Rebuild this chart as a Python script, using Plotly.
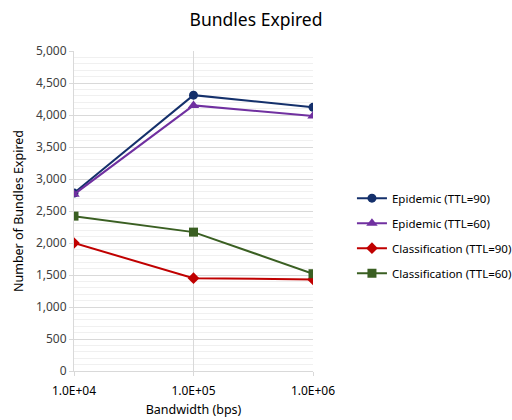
import plotly.graph_objects as go

# Bandwidth values (bps)
bandwidth = [1e4, 1e5, 1e6]
bandwidth_labels = ["1.0E+04", "1.0E+05", "1.0E+06"]

# Bundles expired per protocol
epidemic_90 = [2780, 4310, 4120]
epidemic_60 = [2760, 4150, 3985]
classification_90 = [2000, 1450, 1430]
classification_60 = [2420, 2170, 1520]

series = [
    ("Epidemic (TTL=90)", epidemic_90, "#14306B", "circle", 9),
    ("Epidemic (TTL=60)", epidemic_60, "#7030A0", "triangle-up", 10),
    ("Classification (TTL=90)", classification_90, "#C00000", "diamond", 9),
    ("Classification (TTL=60)", classification_60, "#3A5F22", "square", 9),
]

fig = go.Figure()

for name, values, color, symbol, size in series:
    fig.add_trace(
        go.Scatter(
            x=bandwidth,
            y=values,
            mode="lines+markers",
            name=name,
            legendgroup=name,
            line=dict(color=color, width=2),
            marker=dict(symbol=symbol, size=size, color=color),
        )
    )

fig.update_layout(
    width=512,
    height=420,
    paper_bgcolor="white",
    plot_bgcolor="white",
    font=dict(family="Noto Sans", size=12, color="#404040"),
    title=dict(
        text="Bundles Expired",
        x=0.5,
        xanchor="center",
        y=0.952,
        yanchor="middle",
        font=dict(size=17.5, color="#000000"),
    ),
    margin=dict(l=74, r=199, t=51, b=49, autoexpand=False),
    legend=dict(
        x=1.163,
        y=0.423,
        xanchor="left",
        yanchor="middle",
        font=dict(size=11.5, color="#000000"),
        tracegroupgap=6,
        itemwidth=30,
    ),
    showlegend=True,
)

fig.update_xaxes(
    type="log",
    range=[4, 6],
    tickvals=bandwidth,
    ticktext=bandwidth_labels,
    showgrid=True,
    gridcolor="#D9D9D9",
    showline=True,
    linecolor="#D9D9D9",
    ticks="outside",
    tickcolor="#D9D9D9",
    ticklen=4,
    ticklabelstandoff=5,
    zeroline=False,
    title=dict(text="Bandwidth (bps)", font=dict(size=12.5, color="#000000"), standoff=6),
    tickfont=dict(color="#000000"),
)

fig.update_yaxes(
    range=[0, 5000],
    dtick=500,
    tickformat=",d",
    showgrid=True,
    gridcolor="#D9D9D9",
    minor=dict(dtick=100, showgrid=True, gridcolor="#F0F0F0"),
    showline=True,
    linecolor="#D9D9D9",
    ticks="outside",
    tickcolor="#D9D9D9",
    ticklen=4,
    zeroline=False,
    title=dict(text="Number of Bundles Expired", font=dict(size=12.5, color="#000000"), standoff=9),
    tickfont=dict(color="#404040"),
)

# page body has a default 8px margin; drop it so the figure sits at the window origin
fig.write_html(
    "out.html",
    config={"displayModeBar": False},
    post_script="document.body.style.margin = '0';",
)
